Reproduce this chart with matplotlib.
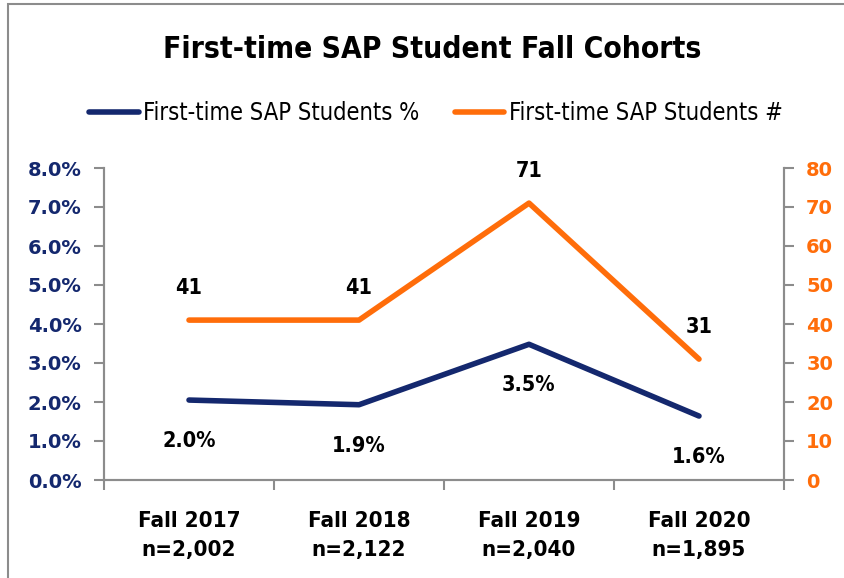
import matplotlib.pyplot as plt
import matplotlib.patches as patches
from matplotlib.ticker import FuncFormatter, MultipleLocator

# data
cohorts = ["Fall 2017\nn=2,002", "Fall 2018\nn=2,122", "Fall 2019\nn=2,040", "Fall 2020\nn=1,895"]
pct = [2.05, 1.93, 3.48, 1.64]
pct_labels = ["2.0%", "1.9%", "3.5%", "1.6%"]
counts = [41, 41, 71, 31]

navy = "#14286e"
orange = "#ff6d0a"
cond = dict(family="DejaVu Sans", stretch="condensed")

fig = plt.figure(figsize=(8.45, 5.78), dpi=100)
ax = fig.add_axes([104 / 845, 1 - 480 / 578, 680 / 845, 312 / 578])
ax2 = ax.twinx()

x = list(range(len(cohorts)))
l1, = ax.plot(x, pct, color=navy, lw=4, solid_capstyle="round", label="First-time SAP Students %")
l2, = ax2.plot(x, counts, color=orange, lw=4, solid_capstyle="round", label="First-time SAP Students #")

ax.set_xlim(-0.5, 3.5)
ax.set_ylim(0, 8)
ax2.set_ylim(0, 80)
ax.yaxis.set_major_locator(MultipleLocator(1))
ax2.yaxis.set_major_locator(MultipleLocator(10))
ax.yaxis.set_major_formatter(FuncFormatter(lambda v, p: f"{v:.1f}%"))

for a in (ax, ax2):
    for s in a.spines.values():
        s.set_color("#8c8c8c")
        s.set_linewidth(1.5)
    a.spines["top"].set_visible(False)

ax.set_xticks([-0.5, 0.5, 1.5, 2.5, 3.5])
ax.set_xticklabels([])
ax.set_xticks(x, minor=True)
ax.set_xticklabels(cohorts, minor=True, fontsize=16, fontweight="bold", linespacing=1.6, **cond)
ax.tick_params(axis="x", which="major", length=7, width=1.5, color="#8c8c8c")
ax.tick_params(axis="x", which="minor", length=0, pad=22)
ax.tick_params(axis="y", length=7, width=1.5, color="#8c8c8c", labelsize=14, labelcolor=navy, pad=9)
ax2.tick_params(axis="y", length=7, width=1.5, color="#8c8c8c", labelsize=14, labelcolor=orange, pad=9)
for t in ax.get_yticklabels():
    t.set_fontweight("bold")
for t in ax2.get_yticklabels():
    t.set_fontweight("bold")

for xi, v, lab in zip(x, pct, pct_labels):
    ax.annotate(lab, (xi, v), xytext=(0, -41), textcoords="offset pixels", ha="center", va="center",
                fontsize=15.5, fontweight="bold", **cond)
for xi, v in zip(x, counts):
    ax2.annotate(str(v), (xi, v), xytext=(0, 32), textcoords="offset pixels", ha="center", va="center",
                 fontsize=15.5, fontweight="bold", **cond)

fig.text(0.511, 1 - 50 / 578, "First-time SAP Student Fall Cohorts", ha="center", va="center",
         fontsize=21.5, fontweight="bold", **cond)
fig.legend(handles=[l1, l2], loc="center", bbox_to_anchor=(0.516, 1 - 113 / 578), ncol=2, frameon=False,
           prop=dict(size=17, **cond), handlelength=2.1, handletextpad=0.2, columnspacing=1.5)

fig.patches.append(patches.Rectangle((8 / 845, -0.05), 1.1, 1 - 4 / 578 + 0.05, transform=fig.transFigure,
                                     fill=False, edgecolor="#8c8c8c", lw=1.5))

fig.savefig("out.png", dpi=100)
